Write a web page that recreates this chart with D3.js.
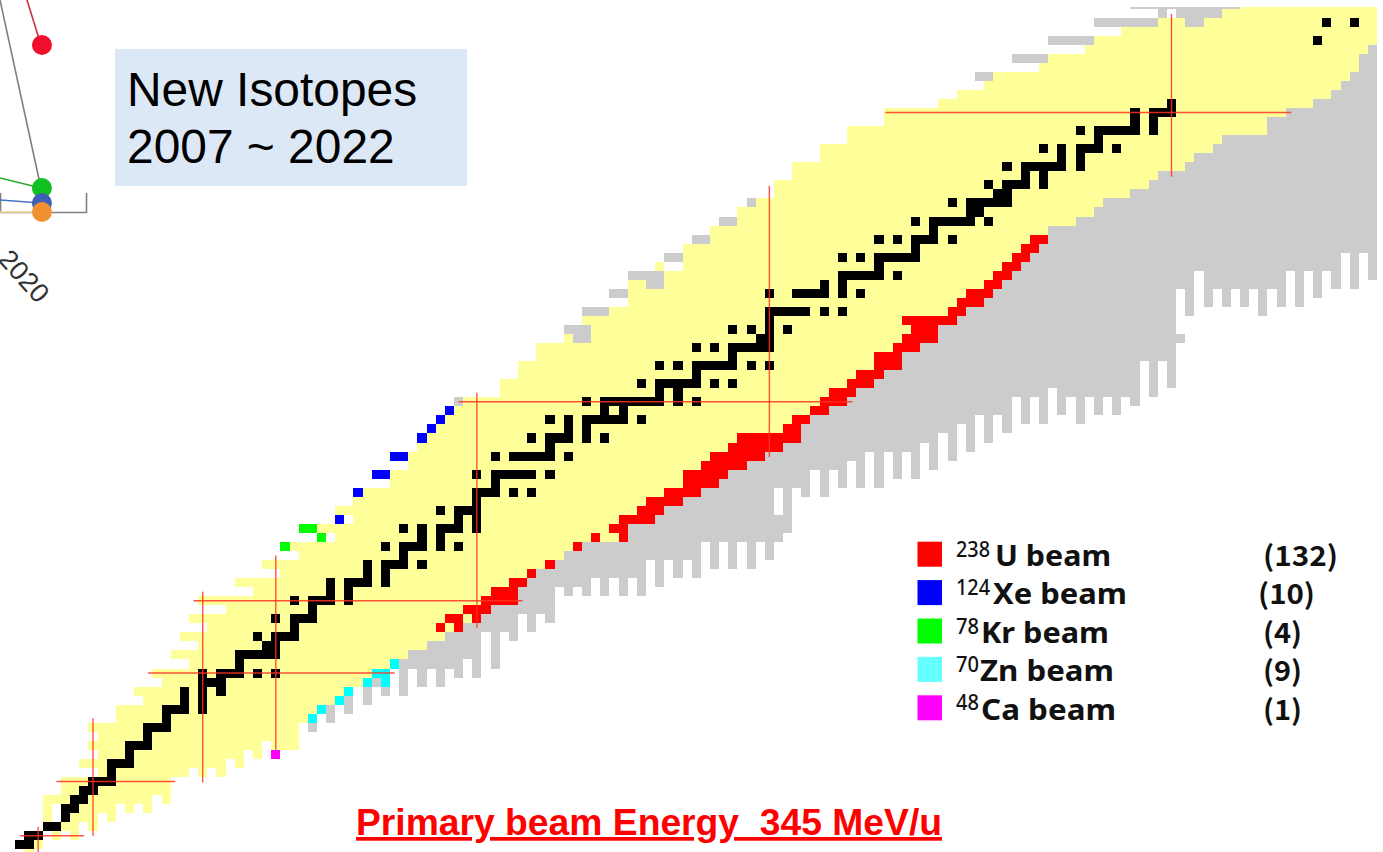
<!DOCTYPE html>
<html lang="en">
<head>
  <meta charset="utf-8">
  <title>New Isotopes 2007 ~ 2022</title>
  <script src="https://d3js.org/d3.v7.min.js"></script>
  <style>
    body { margin: 0; background: #fff; overflow: hidden; }
    svg { display: block; }
    .cell { shape-rendering: crispEdges; }
    .magic { stroke: #ff3322; stroke-width: 1.4; stroke-opacity: 0.85; }
    .legend-text { font-family: "Noto Sans", sans-serif; font-weight: 700; fill: #111; }
    .count-text { font-family: "Noto Sans CJK JP", sans-serif; font-weight: 700; fill: #111; }
  </style>
</head>
<body>
<script>
// runs are [Z, first N, last N]
const knownRuns = [
  [0,1,1],[1,2,2],[2,4,4],[2,6,6],[3,5,6],[3,8,8],[4,3,3],[4,6,8],[4,10,10],
  [5,3,3],[5,7,10],[5,12,12],[5,14,14],[6,3,14],[6,16,16],[7,5,16],[8,5,16],
  [9,9,18],[9,20,20],[9,22,22],[10,7,22],[10,24,24],[11,9,24],[11,26,26],
  [12,8,26],[12,28,30],[13,9,30],[14,8,30],[15,11,31],[16,11,32],[17,14,34],
  [18,13,35],[19,16,37],[20,15,38],[21,19,40],[22,17,42],[23,20,44],[24,18,46],
  [25,21,48],[26,19,50],[27,23,51],[28,20,54],[29,26,54],[30,24,55],[31,29,56],
  [32,27,58],[33,31,59],[34,30,61],[35,35,66],[36,33,66],[37,37,69],[38,35,70],
  [39,37,72],[40,38,74],[41,41,76],[42,41,77],[43,43,79],[44,43,81],[45,44,83],
  [46,45,85],[47,46,85],[48,47,86],[49,48,88],[50,49,90],[51,53,91],[52,53,93],
  [53,55,94],[54,55,96],[55,57,96],[56,57,98],[57,60,60],[57,63,100],[58,63,100],
  [59,62,102],[60,65,103],[61,67,105],[62,67,106],[63,67,68],[63,71,107],[64,71,108],
  [65,70,70],[65,73,109],[66,73,110],[67,73,111],[68,76,112],[69,76,112],[70,79,115],
  [71,79,117],[72,81,118],[73,83,121],[74,83,123],[75,85,124],[76,85,127],[77,88,128],
  [78,88,130],[79,91,131],[80,91,136],[81,95,136],[82,95,138],[83,101,141],[84,103,143],
  [85,106,144],[86,107,145],[87,112,146],[88,113,146],[89,117,147],[90,118,148],
  [91,121,148],[92,125,127],[92,130,148],[93,132,148],[94,134,148]
];

// neutron rich side, columns [N, lowest Z, highest Z]
const predictedColumns = [
  [32,14,14],[34,15,16],[36,16,17],[38,17,18],[39,19,19],[40,18,18],
  [42,18,21],[43,21,22],[44,19,22],[45,21,23],[46,19,23],[47,21,24],[48,20,24],[49,22,25],
  [50,20,25],[51,25,26],[52,21,27],[53,25,27],[54,24,27],[55,27,29],[56,25,30],[57,27,31],
  [58,26,31],[59,30,32],[60,29,33],[61,30,33],[62,29,34],[63,31,34],[64,29,34],[65,31,34],
  [66,29,34],[67,31,36],[68,29,36],[69,33,36],[70,30,37],[71,33,38],[72,31,38],[73,33,39],
  [74,31,39],[75,35,40],[76,32,40],[77,35,41],[78,32,42],[79,35,42],[80,32,43],[81,35,43],
  [82,33,44],[83,35,37],[83,41,44],[84,36,45],[85,41,45],[86,40,47],[87,43,48],[88,40,48],
  [89,43,49],[90,41,49],[91,44,50],[92,41,51],[93,45,51],[94,41,52],[95,45,53],[96,42,53],
  [97,45,55],[98,42,55],[99,46,56],[100,43,56],[101,47,58],[102,44,58],[103,48,59],
  [104,45,60],[105,49,60],[106,46,61],[107,49,62],[108,47,63],[109,51,64],[110,48,65],
  [111,51,66],[112,48,67],[113,52,69],[114,49,69],[115,51,69],[116,48,70],[117,51,70],
  [118,49,71],[119,51,72],[120,49,72],[121,51,72],[122,50,73],[123,55,73],[124,51,74],
  [125,55,75],[126,52,75],[127,57,57],[127,63,75],[128,60,76],[129,65,77],[130,61,77],
  [131,63,78],[132,61,79],[133,63,79],[134,61,79],[135,63,79],[136,60,79],[137,63,81],
  [138,61,81],[139,65,82],[140,61,82],[141,65,82],[142,62,83],[143,65,83],[144,63,84],
  [145,67,85],[146,63,86],[147,67,88],[148,64,89]
];

// proton rich side
const predictedRuns = [
  [50,48,48],[57,61,62],[58,60,62],[60,62,64],[62,65,66],[63,69,70],[64,67,70],[66,71,72],
  [68,74,75],[70,77,78],[72,80,80],[86,105,106],[88,109,112],[90,113,117],[92,118,124],
  [92,128,129],[93,125,125],[93,127,131],[94,122,133]
];

const stableRuns = [
  [1,0,1],[2,1,2],[3,3,4],[4,5,5],[5,5,6],[6,6,7],[7,7,8],[8,8,10],[9,10,10],[10,10,12],
  [11,12,12],[12,12,14],[13,14,14],[14,14,16],[15,16,16],[16,16,18],[16,20,20],[17,18,18],
  [17,20,20],[18,18,18],[18,20,20],[18,22,22],[19,20,22],[20,20,20],[20,22,24],[20,26,26],
  [20,28,28],[21,24,24],[22,24,28],[23,27,28],[24,26,26],[24,28,30],[25,30,30],[26,28,28],
  [26,30,32],[27,32,32],[28,30,30],[28,32,34],[28,36,36],[29,34,34],[29,36,36],[30,34,34],
  [30,36,38],[30,40,40],[31,38,38],[31,40,40],[32,38,38],[32,40,42],[32,44,44],[33,42,42],
  [34,40,40],[34,42,44],[34,46,46],[34,48,48],[35,44,44],[35,46,46],[36,42,42],[36,44,44],
  [36,46,48],[36,50,50],[37,48,48],[37,50,50],[38,46,46],[38,48,50],[39,50,50],[40,50,52],
  [40,54,54],[40,56,56],[41,52,52],[42,50,50],[42,52,56],[42,58,58],[44,52,52],[44,54,58],
  [44,60,60],[45,58,58],[46,56,56],[46,58,60],[46,62,62],[46,64,64],[47,60,60],[47,62,62],
  [48,58,58],[48,60,60],[48,62,66],[48,68,68],[49,64,64],[49,66,66],[50,62,62],[50,64,70],
  [50,72,72],[50,74,74],[51,70,70],[51,72,72],[52,68,68],[52,70,74],[52,76,76],[52,78,78],
  [53,74,74],[54,70,70],[54,72,72],[54,74,78],[54,80,80],[54,82,82],[55,78,78],[56,74,74],
  [56,76,76],[56,78,82],[57,81,82],[58,78,78],[58,80,80],[58,82,82],[58,84,84],[59,82,82],
  [60,82,86],[60,88,88],[60,90,90],[62,82,82],[62,85,88],[62,90,90],[62,92,92],[63,88,88],
  [63,90,90],[64,90,94],[64,96,96],[65,94,94],[66,90,90],[66,92,92],[66,94,98],[67,98,98],
  [68,94,94],[68,96,96],[68,98,100],[68,102,102],[69,100,100],[70,98,98],[70,100,104],
  [70,106,106],[71,104,105],[72,102,102],[72,104,108],[73,107,108],[74,106,106],[74,108,110],
  [74,112,112],[75,110,110],[75,112,112],[76,108,108],[76,110,114],[76,116,116],[77,114,114],
  [77,116,116],[78,112,112],[78,114,114],[78,116,118],[78,120,120],[79,118,118],[80,116,116],
  [80,118,122],[80,124,124],[81,122,122],[81,124,124],[82,122,122],[82,124,126],[83,126,126],
  [90,142,142],[92,143,143],[92,146,146]
];

const uraniumRuns = [
  [25,46,46],[25,48,48],[26,47,48],[26,50,50],[27,49,51],[28,51,54],[29,52,54],[30,54,55],
  [31,56,56],[32,58,58],[34,61,61],[35,63,63],[35,66,66],[36,65,66],[37,66,69],[38,68,70],
  [39,69,72],[40,71,74],[41,73,76],[42,73,77],[43,75,79],[44,76,81],[45,78,83],[46,79,85],
  [47,84,85],[48,85,86],[49,87,88],[50,88,90],[51,89,91],[52,91,93],[53,92,94],[54,94,96],
  [55,94,96],[56,96,98],[57,97,100],[58,98,100],[59,97,102],[60,102,103],[61,103,105],
  [62,104,106],[63,106,107],[64,107,108],[65,108,109],[66,109,110],[67,110,111],[68,111,112]
];
const xenonRuns = [[37,35,35],[40,37,37],[42,39,40],[44,41,42],[46,44,44],[47,45,45],[48,46,46],[49,47,47]];
const kryptonRuns = [[34,29,29],[35,33,33],[36,31,32]];
const zincRuns = [[15,32,32],[16,33,33],[17,35,35],[18,36,36],[19,38,38],[19,40,40],[20,39,40],[21,41,41]];
const calciumRuns = [[11,28,28]];

// magic number guide lines, in N / Z units
const magicZLines = [[2,0.5,7.5],[8,4.5,17.5],[20,14.5,41.5],[28,19.5,55.5],[50,48.5,91.6],[82,95.2,139.6]];
const magicNLines = [[2,0.7,3.5],[8,2.5,15.5],[20,8.4,29.5],[28,12,33.5],[50,25.5,51.5],[82,44.4,74.4],[126,75.4,93.4]];

const legendSups = ["238", "124", "78", "70", "48"];
const legendNames = ["U beam", "Xe beam", "Kr beam", "Zn beam", "Ca beam"];
const legendCounts = ["(132)", "(10)", "(4)", "(9)", "(1)"];
const legendColors = ["#ff0000", "#0000ff", "#00ff00", "#66ffff", "#ff00ff"];

// leftover piece of the yearly line chart, top left of the slide
const fragmentYears = [2019, 2020];
const fragmentSeries = [
  { color: "#808080", values: [212, 24], dot: null },
  { color: "#c9304c", values: [299, 167], dot: "#f0102c" },
  { color: "#f6dc9a", values: [0, 0], dot: null },
  { color: "#4472c4", values: [12, 9], dot: "#3d5fb4" },
  { color: "#2ca82c", values: [34, 24], dot: "#10c020" },
];
const fragmentOrange = { color: "#f09030", year: 2020, value: 0 };

const width = 1383, height = 852;

const svg = d3.select("body").append("svg")
  .attr("width", width)
  .attr("height", height);

const x = d3.scaleLinear().domain([0, 150]).range([15.3, 1386.3]);
const y = d3.scaleLinear().domain([1, 95]).range([849.3, -0.46]);

svg.append("clipPath").attr("id", "chart-clip")
  .append("rect")
  .attr("x", 0).attr("y", 7)
  .attr("width", x(149)).attr("height", height);

const chart = svg.append("g").attr("clip-path", "url(#chart-clip)");

function drawRuns(runs, color) {
  chart.append("g").selectAll("rect")
    .data(runs)
    .enter().append("rect")
    .attr("class", "cell")
    .attr("x", d => x(d[1]))
    .attr("y", d => y(d[0] + 1))
    .attr("width", d => x(d[2] + 1) - x(d[1]))
    .attr("height", d => y(d[0]) - y(d[0] + 1))
    .attr("fill", color);
}

drawRuns(knownRuns, "#ffff99");

chart.append("g").selectAll("rect")
  .data(predictedColumns)
  .enter().append("rect")
  .attr("class", "cell")
  .attr("x", d => x(d[0]))
  .attr("y", d => y(d[2] + 1))
  .attr("width", d => x(d[0] + 1) - x(d[0]))
  .attr("height", d => y(d[1]) - y(d[2] + 1))
  .attr("fill", "#cccccc");

drawRuns(predictedRuns, "#cccccc");
drawRuns(uraniumRuns, "#ff0000");
drawRuns(xenonRuns, "#0000ff");
drawRuns(kryptonRuns, "#00ff00");
drawRuns(zincRuns, "#00ffff");
drawRuns(calciumRuns, "#ff00ff");
drawRuns(stableRuns, "#000000");

chart.append("g").selectAll("line")
  .data(magicZLines)
  .enter().append("line")
  .attr("class", "magic")
  .attr("x1", d => x(d[1])).attr("x2", d => x(d[2]))
  .attr("y1", d => y(d[0] + 0.5)).attr("y2", d => y(d[0] + 0.5));

chart.append("g").selectAll("line")
  .data(magicNLines)
  .enter().append("line")
  .attr("class", "magic")
  .attr("x1", d => x(d[0] + 0.5)).attr("x2", d => x(d[0] + 0.5))
  .attr("y1", d => y(d[1])).attr("y2", d => y(d[2]));

// blue title box
svg.append("rect")
  .attr("x", 115).attr("y", 49)
  .attr("width", 352).attr("height", 137)
  .attr("fill", "#dce8f5");

svg.selectAll(".box-title")
  .data(["New Isotopes", "2007 ~ 2022"])
  .enter().append("text")
  .attr("class", "box-title")
  .attr("x", 127)
  .attr("y", (d, i) => 105.5 + i * 57.7)
  .attr("font-family", "Liberation Sans, Arial, sans-serif")
  .attr("font-size", 47.9)
  .attr("fill", "#000")
  .text(d => d);

// fragment of the other chart
const yearX = d3.scaleLinear().domain([2019, 2021.1]).range([0, 86]);
const countY = d3.scaleLinear().domain([0, 212]).range([212, 0]);
const fragmentLine = d3.line()
  .x((d, i) => yearX(fragmentYears[i]))
  .y(d => countY(d));

svg.append("g")
  .attr("transform", "translate(0," + countY(0) + ")")
  .call(d3.axisBottom(yearX).tickValues([]).tickSizeOuter(-19))
  .call(g => g.select(".domain").attr("stroke", "#808080").attr("stroke-width", 1.6));

svg.selectAll(".fragment-line")
  .data(fragmentSeries)
  .enter().append("path")
  .attr("class", "fragment-line")
  .attr("fill", "none")
  .attr("stroke", d => d.color)
  .attr("stroke-width", 1.6)
  .attr("d", d => fragmentLine(d.values));

svg.selectAll(".fragment-dot")
  .data(fragmentSeries.filter(d => d.dot).reverse())
  .enter().append("circle")
  .attr("class", "fragment-dot")
  .attr("cx", yearX(2020) + 1)
  .attr("cy", d => countY(d.values[1]))
  .attr("r", 10)
  .attr("fill", d => d.dot);

svg.selectAll(".fragment-dot-top")
  .data([fragmentOrange])
  .enter().append("circle")
  .attr("class", "fragment-dot-top")
  .attr("cx", d => yearX(d.year) + 1)
  .attr("cy", d => countY(d.value))
  .attr("r", 10)
  .attr("fill", d => d.color);

svg.append("text")
  .attr("transform", "translate(-3,260) rotate(48)")
  .attr("font-family", "Liberation Sans, Arial, sans-serif")
  .attr("font-size", 27)
  .attr("fill", "#333")
  .text(String(fragmentYears[1]));

// legend
const legendTop = 541.7, legendStep = 38.4;
const nameStart = [995, 993, 981, 980, 981];
const nameLength = [116, 134, 128, 134, 135];
const supLength = [34, 34, 23, 23, 23];
const countStart = [1263, 1258, 1263, 1263, 1263];
const countLength = [75, 57, 39, 39, 39];

const legend = svg.selectAll(".legend-row")
  .data(legendNames)
  .enter().append("g")
  .attr("class", "legend-row")
  .attr("transform", (d, i) => "translate(0," + (legendTop + i * legendStep) + ")");

legend.append("rect")
  .attr("x", 917.5).attr("y", 0)
  .attr("width", 24.5).attr("height", 25)
  .attr("fill", (d, i) => legendColors[i]);

legend.append("text")
  .attr("class", "legend-text")
  .attr("x", 956).attr("y", 15)
  .attr("font-size", 21)
  .attr("font-weight", 500)
  .style("font-weight", 500)
  .attr("textLength", (d, i) => supLength[i])
  .attr("lengthAdjust", "spacingAndGlyphs")
  .text((d, i) => legendSups[i]);

legend.append("text")
  .attr("class", "legend-text")
  .attr("x", (d, i) => nameStart[i]).attr("y", 24.3)
  .attr("font-size", 28)
  .attr("textLength", (d, i) => nameLength[i])
  .attr("lengthAdjust", "spacingAndGlyphs")
  .text(d => d);

legend.append("text")
  .attr("class", "count-text")
  .attr("x", (d, i) => countStart[i]).attr("y", 24.3)
  .attr("font-size", 28)
  .attr("textLength", (d, i) => countLength[i])
  .attr("lengthAdjust", "spacingAndGlyphs")
  .text((d, i) => legendCounts[i]);

// bottom caption
svg.append("text")
  .attr("x", 356).attr("y", 835)
  .attr("font-family", "Liberation Sans, Arial, sans-serif")
  .attr("font-weight", 700)
  .attr("font-size", 37)
  .attr("fill", "#ff0000")
  .attr("text-decoration", "underline")
  .attr("textLength", 586)
  .attr("lengthAdjust", "spacingAndGlyphs")
  .style("white-space", "pre")
  .text("Primary beam Energy  345 MeV/u");
</script>
</body>
</html>
